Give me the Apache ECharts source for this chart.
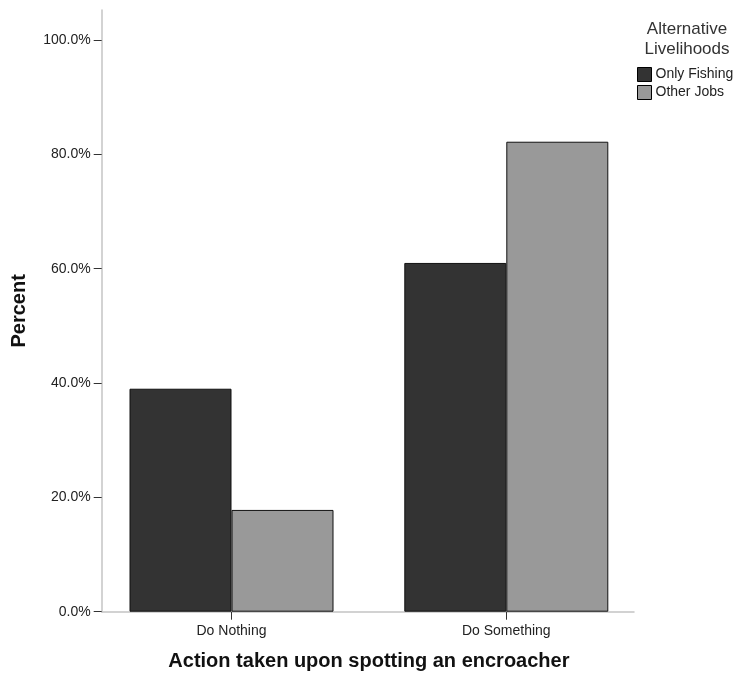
<!DOCTYPE html>
<html>
<head>
<meta charset="utf-8">
<script src="https://cdn.jsdelivr.net/npm/echarts@6/dist/echarts.min.js"></script>
<style>html,body{margin:0;padding:0;background:#fff;}#c{width:738px;height:677px;}</style>
</head>
<body>
<div id="c"></div>
<script>
const categories = ['Do Nothing', 'Do Something'];
const onlyFishing = [39.0, 61.0];
const otherJobs = [17.8, 82.2];
const yTicks = [0, 20, 40, 60, 80, 100];
const seriesNames = ['Only Fishing', 'Other Jobs'];
const legendTitle = 'Alternative\nLivelihoods';
const xTitle = 'Action taken upon spotting an encroacher';
const yTitle = 'Percent';

const FONT = '"Liberation Sans", Arial, sans-serif';
const yMax = 105.24;
const chart = echarts.init(document.getElementById('c'), null, {renderer: 'canvas'});
chart.setOption({
  animation: false,
  backgroundColor: '#fff',
  graphic: [{
    type: 'text', x: 687, y: 19,
    style: {text: legendTitle, fill: '#333', font: '17px ' + FONT, lineHeight: 20, align: 'center', verticalAlign: 'top'}
  }],
  legend: {
    orient: 'vertical', left: 637, top: 67, itemWidth: 14, itemHeight: 14, itemGap: 3,
    icon: 'rect', padding: 0,
    textStyle: {fontFamily: FONT, fontSize: 14, color: '#222', padding: [0, 0, 0, -1]},
    itemStyle: {borderColor: '#000', borderWidth: 1},
    data: seriesNames
  },
  grid: [
    {left: 94.1, top: 10, width: 549.6, height: 601.7},
    {left: 101.7, top: 10, width: 532.3, height: 601.7}
  ],
  xAxis: [{
    gridIndex: 0, type: 'category', data: categories,
    axisLine: {show: false},
    axisTick: {show: true, alignWithLabel: true, length: 8, lineStyle: {color: '#333', width: 1}},
    axisLabel: {margin: 12, fontFamily: FONT, fontSize: 14, color: '#222'},
    name: xTitle, nameLocation: 'middle', nameGap: 40,
    nameTextStyle: {fontFamily: FONT, fontSize: 20, fontWeight: 'bold', color: '#111'}
  }, {
    gridIndex: 1, type: 'value', min: 0, max: 1,
    axisLine: {show: true, lineStyle: {color: '#c4c4c4', width: 1.5}},
    axisTick: {show: false}, axisLabel: {show: false}, splitLine: {show: false}
  }],
  yAxis: [{
    gridIndex: 0, type: 'value', min: 0, max: yMax, show: false, splitLine: {show: false}
  }, {
    gridIndex: 1, type: 'value', min: 0, max: yMax,
    axisLine: {show: true, lineStyle: {color: '#c4c4c4', width: 1.5}},
    axisTick: {show: true, length: 8, customValues: yTicks, lineStyle: {color: '#333', width: 1}},
    axisLabel: {customValues: yTicks, margin: 11, fontFamily: FONT, fontSize: 14, color: '#222',
      formatter: v => v.toFixed(1) + '%'},
    splitLine: {show: false},
    name: yTitle, nameLocation: 'middle', nameGap: 72,
    nameTextStyle: {fontFamily: FONT, fontSize: 20, fontWeight: 'bold', color: '#111'}
  }],
  series: [{
    name: seriesNames[0], type: 'bar', xAxisIndex: 0, yAxisIndex: 0,
    data: onlyFishing, barWidth: 102, barGap: '0%',
    itemStyle: {color: '#333333', borderColor: '#111', borderWidth: 1}
  }, {
    name: seriesNames[1], type: 'bar', xAxisIndex: 0, yAxisIndex: 0,
    data: otherJobs, barWidth: 102, barGap: '0%',
    itemStyle: {color: '#999999', borderColor: '#111', borderWidth: 1}
  }]
});
</script>
</body>
</html>
